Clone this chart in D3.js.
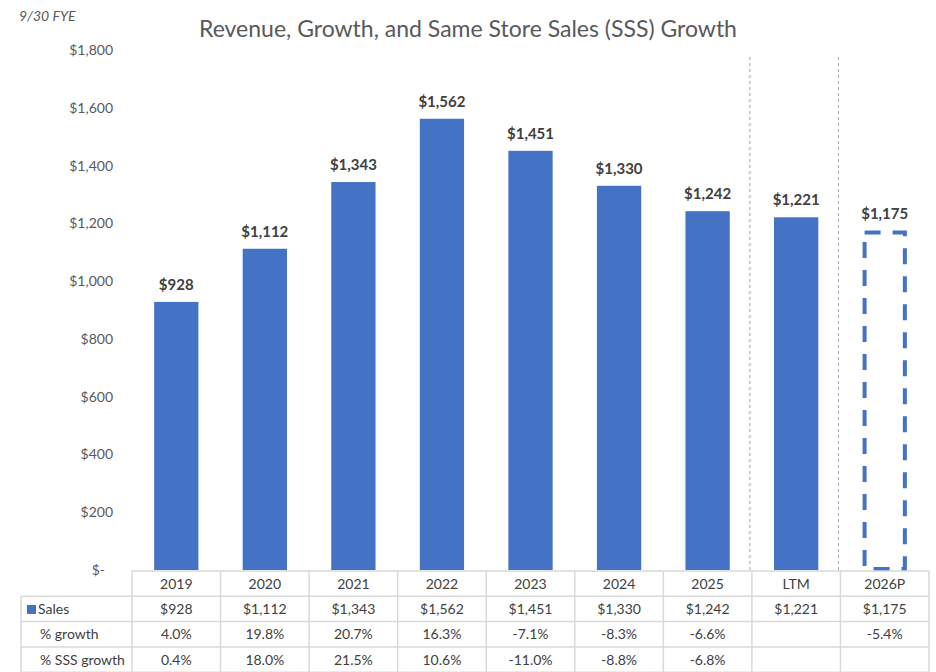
<!DOCTYPE html>
<html>
<head>
<meta charset="utf-8">
<script src="https://cdn.jsdelivr.net/npm/d3@7"></script>
<style>
  body { margin: 0; background: #fff; }
  text { font-family: Lato, "Open Sans", sans-serif; }
</style>
</head>
<body>
<svg id="chart" width="936" height="672"></svg>
<script>
const categories = ['2019', '2020', '2021', '2022', '2023', '2024', '2025', 'LTM', '2026P']
const sales = [928, 1112, 1343, 1562, 1451, 1330, 1242, 1221, 1175]
const growth = ['4.0%', '19.8%', '20.7%', '16.3%', '-7.1%', '-8.3%', '-6.6%', '', '-5.4%']
const sssGrowth = ['0.4%', '18.0%', '21.5%', '10.6%', '-11.0%', '-8.8%', '-6.8%', '', '']
const yTicks = [0, 200, 400, 600, 800, 1000, 1200, 1400, 1600, 1800]
const projected = '2026P'

const svg = d3.select('#chart')
const blue = '#4472C4', grey = '#595959', dark = '#404040', rule = '#d9d9d9'
const fmt = d3.format(',')
const money = v => v === 0 ? '$-' : '$' + fmt(v)

let plotL = 132, plotR = 929, plotT = 50, base = 570

let y = d3.scaleLinear().domain([0, 1800]).range([base, plotT])
let x = d3.scaleBand().domain(categories).range([plotL, plotR])
    .paddingInner(0.5).paddingOuter(0.25)
let col = d3.scaleBand().domain(categories).range([plotL, plotR])

// titles
svg.append('text')
    .attr('x', 19).attr('y', 21)
    .style('font-size', '14px').style('font-style', 'italic')
    .attr('fill', grey)
    .text('9/30 FYE')
svg.append('text')
    .attr('x', 468).attr('y', 37)
    .attr('text-anchor', 'middle')
    .style('font-size', '23px')
    .attr('fill', grey)
    .text('Revenue, Growth, and Same Store Sales (SSS) Growth')

// y axis, labels only
let yAxis = svg.append('g')
    .attr('transform', 'translate(113,0)')
    .call(d3.axisLeft(y).tickValues(yTicks).tickFormat(money).tickSize(0).tickPadding(0))
yAxis.select('.domain').remove()
yAxis.selectAll('text')
    .style('font-size', '14px')
    .style('font-family', 'Lato, "Open Sans", sans-serif')
    .attr('fill', grey)
    .attr('dx', d => d === 0 ? -8 : 0)

// dashed separators before LTM and projection
svg.append('g').selectAll('line')
    .data(['LTM', projected])
    .join('line')
    .attr('x1', d => col(d) - 2).attr('x2', d => col(d) - 2)
    .attr('y1', 57).attr('y2', base)
    .attr('stroke', '#a6a6a6').attr('stroke-width', 1)
    .attr('stroke-dasharray', '3,3')

// bars
let rows = categories.map((c, i) => ({ c, v: sales[i] }))
svg.append('g').selectAll('rect')
    .data(rows)
    .join('rect')
    .attr('x', d => d.c === projected ? x(d.c) + 2 : x(d.c))
    .attr('y', d => d.c === projected ? y(d.v) + 2 : y(d.v))
    .attr('width', d => d.c === projected ? x.bandwidth() - 4 : x.bandwidth())
    .attr('height', d => d.c === projected ? base - y(d.v) - 3 : base - y(d.v))
    .attr('fill', d => d.c === projected ? 'none' : blue)
    .attr('stroke', d => d.c === projected ? blue : 'none')
    .attr('stroke-width', 4)
    .attr('stroke-dasharray', '16,12')

svg.append('g').selectAll('text')
    .data(rows)
    .join('text')
    .attr('x', d => x(d.c) + x.bandwidth() / 2)
    .attr('y', d => y(d.v) - 12)
    .attr('text-anchor', 'middle')
    .style('font-size', '15px').style('font-weight', 'bold')
    .attr('fill', dark)
    .text(d => money(d.v))

// data table
let rowH = 25.3, tTop = 571
let table = svg.append('g')
let hl = [0, 1, 2, 3, 4]
table.selectAll('line.h')
    .data(hl)
    .join('line')
    .attr('class', 'h')
    .attr('x1', d => d === 0 ? plotL : 21).attr('x2', plotR)
    .attr('y1', d => tTop + d * rowH).attr('y2', d => tTop + d * rowH)
    .attr('stroke', rule).attr('stroke-width', 1.5)
let vl = categories.map(c => col(c)).concat([plotR])
table.selectAll('line.v')
    .data(vl)
    .join('line')
    .attr('class', 'v')
    .attr('x1', d => d).attr('x2', d => d)
    .attr('y1', tTop).attr('y2', 672)
    .attr('stroke', rule).attr('stroke-width', 1.5)
table.append('line')
    .attr('x1', 21).attr('x2', 21)
    .attr('y1', tTop + rowH).attr('y2', 672)
    .attr('stroke', rule).attr('stroke-width', 1.5)

let tableRows = [categories, sales.map(money), growth, sssGrowth]
tableRows.forEach((vals, r) => {
    table.append('g').selectAll('text')
        .data(vals)
        .join('text')
        .attr('x', (d, i) => col(categories[i]) + col.bandwidth() / 2)
        .attr('y', tTop + r * rowH + rowH / 2 + 5)
        .attr('text-anchor', 'middle')
        .style('font-size', '14px')
        .attr('fill', dark)
        .text(d => d)
})

let labels = ['Sales', '% growth', '% SSS growth']
table.append('rect')
    .attr('x', 27).attr('y', tTop + rowH + rowH / 2 - 4)
    .attr('width', 9).attr('height', 9)
    .attr('fill', blue)
table.selectAll('text.lab')
    .data(labels)
    .join('text')
    .attr('class', 'lab')
    .attr('x', (d, i) => i === 0 ? 38 : 40)
    .attr('y', (d, i) => tTop + (i + 1) * rowH + rowH / 2 + 5)
    .style('font-size', '14px')
    .attr('fill', dark)
    .text(d => d)
</script>
</body>
</html>
